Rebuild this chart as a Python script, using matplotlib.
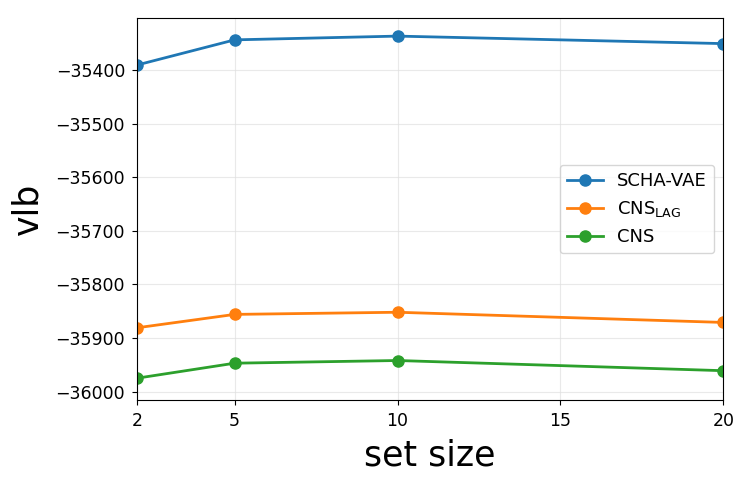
import matplotlib
matplotlib.use("Agg")
import matplotlib.pyplot as plt

set_sizes = [2, 5, 10, 20]
scha_vae = [-35391, -35344, -35337, -35351]
cns_lag = [-35881, -35856, -35852, -35871]
cns = [-35975, -35947, -35942, -35961]
xticks = [2, 5, 10, 15, 20]
yticks = [-36000, -35900, -35800, -35700, -35600, -35500, -35400]

fig = plt.figure(figsize=(7.48, 4.83), dpi=100)
ax = fig.add_axes([0.183, 0.172, 0.784, 0.791])
ax.plot(set_sizes, scha_vae, marker='o', color='#1f77b4', lw=2, ms=8, label='SCHA-VAE')
ax.plot(set_sizes, cns_lag, marker='o', color='#ff7f0e', lw=2, ms=8, label=r'CNS$_{\mathrm{LAG}}$')
ax.plot(set_sizes, cns, marker='o', color='#2ca02c', lw=2, ms=8, label='CNS')
ax.set_xlim(2, 20)
ax.set_ylim(-36015.5, -35303)
ax.set_xticks(xticks)
ax.set_yticks(yticks)
ax.tick_params(labelsize=12.5, pad=5)
ax.grid(True, color='#e0e0e0', lw=0.8, alpha=0.7)
ax.set_xlabel('set size', fontsize=25, labelpad=6)
ax.set_ylabel('vlb', fontsize=25, labelpad=8)
ax.legend(loc='center right', fontsize=13)
fig.savefig('out.png', dpi=100)
